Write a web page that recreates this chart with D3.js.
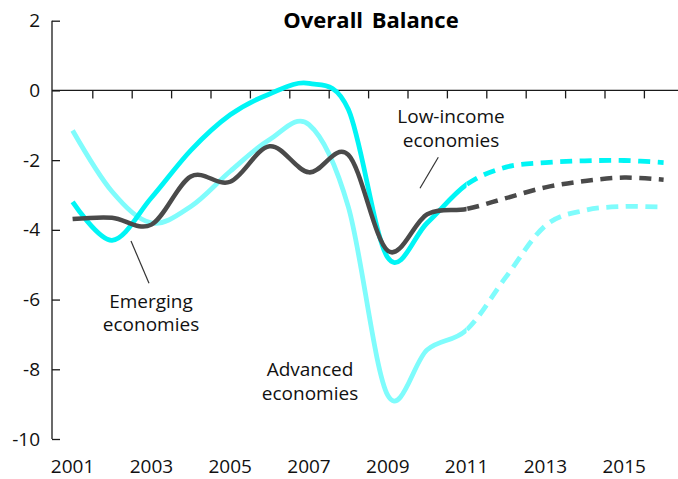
<!DOCTYPE html>
<html>
<head>
<meta charset="utf-8">
<script src="https://cdn.jsdelivr.net/npm/d3@7"></script>
<style>
  html, body { margin: 0; padding: 0; background: #fff; }
  svg { display: block; }
  text { font-family: "Open Sans", "Noto Sans", sans-serif; fill: #111; }
</style>
</head>
<body>
<svg id="chart" width="678" height="479"></svg>
<script>
const years = [2001,2002,2003,2004,2005,2006,2007,2008,2009,2010,2011,2012,2013,2014,2015,2016];
const emerging  = [-3.69,-3.65,-3.85,-2.47,-2.62,-1.60,-2.35,-1.85,-4.60,-3.55,-3.40,-3.09,-2.78,-2.60,-2.50,-2.56];
const lowIncome = [-3.20,-4.30,-3.08,-1.72,-0.70,-0.10,0.20,-0.55,-4.80,-3.80,-2.70,-2.20,-2.07,-2.02,-2.01,-2.07];
const advanced  = [-1.15,-2.90,-3.80,-3.33,-2.32,-1.41,-0.98,-3.35,-8.75,-7.44,-6.87,-5.35,-3.88,-3.44,-3.33,-3.35];
const forecastStart = 2011;
const yTicks = [2,0,-2,-4,-6,-8,-10];
const xTickLabels = [2001,2003,2005,2007,2009,2011,2013,2015];
const xTickMarks = [2001.5,2002.5,2003.5,2004.5,2005.5,2006.5,2007.5,2008.5,2009.5,2010.5,2011.5,2012.5,2013.5,2014.5,2015.5];
const title = "Overall Balance";
const seriesNames = ["Emerging economies","Low-income economies","Advanced economies"];

const svg = d3.select("#chart");
const x = d3.scaleLinear().domain([2000.5, 2016.5]).range([52.9, 683.3]);
const y = d3.scaleLinear().domain([-10, 2]).range([439, 20.7]);
const axisColor = "#1a1a1a";

// Title
svg.append("text").attr("x", 371).attr("y", 28).attr("text-anchor", "middle")
  .style("font-size", "22px").style("font-weight", "bold").style("word-spacing", "3px")
  .style("fill", "#000").text(title);

// Y axis
const yAxis = d3.axisLeft(y).tickValues(yTicks).tickSize(-8).tickPadding(20).tickFormat(d => String(d));
const gy = svg.append("g").attr("transform", "translate(52,0)").call(yAxis);
gy.select(".domain").remove();
gy.append("line").attr("x1",0).attr("x2",0).attr("y1",y(2)).attr("y2",y(-10))
  .attr("stroke", axisColor).attr("stroke-width", 1.3);
gy.selectAll(".tick line").attr("stroke", axisColor).attr("stroke-width", 1.3);
gy.selectAll(".tick text").attr("x", -12).style("font-size", "19px")
  .style("font-family", "'Open Sans', sans-serif").attr("fill", "#111");

// X axis at zero
const xAxis = d3.axisBottom(x).tickValues(xTickMarks).tickSize(8).tickFormat("");
const gx = svg.append("g").attr("transform", `translate(0,${y(0)})`).call(xAxis);
gx.select(".domain").remove();
gx.append("line").attr("x1", 52).attr("x2", 678).attr("y1", 0).attr("y2", 0)
  .attr("stroke", axisColor).attr("stroke-width", 1.3);
gx.selectAll(".tick line").attr("stroke", axisColor).attr("stroke-width", 1.3);

// Year labels at bottom
svg.append("g").selectAll("text").data(xTickLabels).join("text")
  .attr("x", d => x(d)).attr("y", 473).attr("text-anchor", "middle")
  .style("font-size", "19px").text(d => d);

// Clip paths for actual vs forecast
const defs = svg.append("defs");
const xCut = x(forecastStart);
defs.append("clipPath").attr("id", "clipSolid").append("rect")
  .attr("x", 0).attr("y", 0).attr("width", xCut).attr("height", 479);
defs.append("clipPath").attr("id", "clipDash").append("rect")
  .attr("x", xCut).attr("y", 0).attr("width", 678 - xCut).attr("height", 479);

const line = d3.line().x((d, i) => x(years[i])).y(d => y(d)).curve(d3.curveCardinal.tension(0));

const series = [
  { name: seriesNames[1], values: lowIncome, color: "#00f5f5", width: 4.8 },
  { name: seriesNames[2], values: advanced,  color: "#7ffcfc", width: 4.8 },
  { name: seriesNames[0], values: emerging,  color: "#4a4a4a", width: 4.5 }
];
const drawOrder = [series[1], series[0], series[2]];
drawOrder.forEach(s => {
  const dStr = line(s.values);
  svg.append("path").attr("d", dStr).attr("fill", "none").attr("stroke", s.color)
    .attr("stroke-width", s.width).attr("stroke-linejoin", "round")
    .attr("clip-path", "url(#clipSolid)");
  const dp = svg.append("path").attr("d", dStr).attr("fill", "none").attr("stroke", s.color)
    .attr("stroke-width", s.width).attr("clip-path", "url(#clipDash)");
  const node = dp.node();
  const total = node.getTotalLength();
  let lo = 0, hi = total;
  for (let k = 0; k < 40; k++) {
    const mid = (lo + hi) / 2;
    if (node.getPointAtLength(mid).x < xCut) lo = mid; else hi = mid;
  }
  const period = 19.5;
  dp.attr("stroke-dasharray", "12,7.5").attr("stroke-dashoffset", period - (lo % period));
});

// Annotations
function label(lines, cx, baseline, lh) {
  const t = svg.append("text").attr("text-anchor", "middle").style("font-size", "19px");
  lines.forEach((l, i) => t.append("tspan").attr("x", cx).attr("y", baseline + i * lh).text(l));
}
label(["Low-income", "economies"], 451, 123, 23.5);
label(["Emerging", "economies"], 151, 307.5, 23.5);
label(["Advanced", "economies"], 310, 376, 23.5);

svg.append("line").attr("x1", 438.3).attr("y1", 157.3).attr("x2", 420).attr("y2", 188.3)
  .attr("stroke", "#333").attr("stroke-width", 1.2);
svg.append("line").attr("x1", 131).attr("y1", 241).attr("x2", 149).attr("y2", 283.3)
  .attr("stroke", "#333").attr("stroke-width", 1.2);
</script>
</body>
</html>
